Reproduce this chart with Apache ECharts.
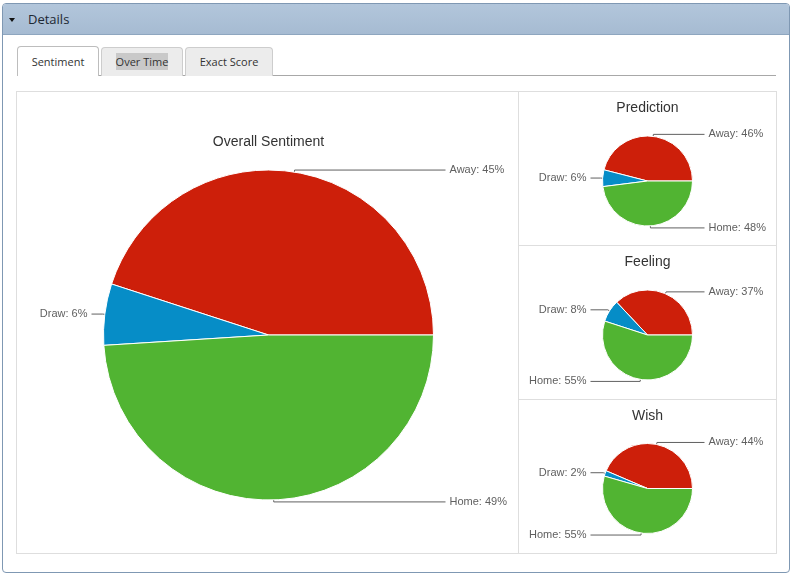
<!DOCTYPE html>
<html>
<head>
<meta charset="utf-8">
<script src="https://cdn.jsdelivr.net/npm/echarts@6/dist/echarts.min.js"></script>
<style>
html,body{margin:0;padding:0;background:#fff;width:793px;height:575px;overflow:hidden;font-family:"Open Sans",sans-serif;}
.abs{position:absolute;box-sizing:border-box;}
#panel{left:2px;top:3px;width:788px;height:570px;border:1px solid #7f98b3;border-radius:4px;}
#header{left:3px;top:4px;width:786px;height:31px;background:linear-gradient(#b2c6db,#a6bbd2);border-bottom:1px solid #8ea6bf;border-radius:3px 3px 0 0;}
#tri{left:9px;top:18px;width:0;height:0;border-left:3.5px solid transparent;border-right:3.5px solid transparent;border-top:4px solid #111;}
#htext{left:28px;top:10px;font-size:13px;line-height:18px;color:#1d2833;}
.tab{top:47px;height:29px;border:1px solid #cdcdcd;border-bottom:none;border-radius:4px 4px 0 0;background:#ececec;font-size:11px;color:#333;text-align:center;line-height:27px;}
#t1{left:17px;top:46px;height:30px;width:82px;background:#fff;border-color:#bdbdbd;z-index:2;line-height:29px;}
#t2{left:101px;width:82px;}
#t3{left:185px;width:88px;}
#t2 span{background:#c9c9c9;padding:1px 0;}
#uline{left:17px;top:75px;width:759px;height:1px;background:#a8a8a8;}
#box{left:16px;top:91px;width:761px;height:463px;border:1px solid #dedede;}
#vdiv{left:518px;top:91px;width:1px;height:463px;background:#dedede;}
#h1{left:518px;top:245px;width:259px;height:1px;background:#dedede;}
#h2{left:518px;top:399px;width:259px;height:1px;background:#dedede;}
#chart{left:16px;top:91px;width:761px;height:463px;z-index:3;}
</style>
</head>
<body>
<div class="abs" id="panel"></div>
<div class="abs" id="header"></div>
<div class="abs" id="tri"></div>
<div class="abs" id="htext">Details</div>
<div class="abs" id="uline"></div>
<div class="abs tab" id="t1">Sentiment</div>
<div class="abs tab" id="t2"><span>Over Time</span></div>
<div class="abs tab" id="t3">Exact Score</div>
<div class="abs" id="box"></div>
<div class="abs" id="vdiv"></div>
<div class="abs" id="h1"></div>
<div class="abs" id="h2"></div>
<div class="abs" id="chart"></div>
<script>
// ---- data ----
const categories = ["Away", "Draw", "Home"];
const overallValues = [45, 6, 49];
const predictionValues = [46, 6, 48];
const feelingValues = [37, 8, 55];
const wishValues = [44, 2, 55];
const chartTitles = ["Overall Sentiment", "Prediction", "Feeling", "Wish"];

// ---- styling ----
const COLORS = ["#cd1f0a", "#068dc7", "#51b432"];
const LINE_LEN = 2;
const LINE_GAP = 12;
const FONT = '"Liberation Sans", Arial, sans-serif';

function buildData(values, r) {
  const sum = values.reduce((a, b) => a + b, 0);
  let acc = 0;
  return categories.map((n, i) => {
    const ang = (acc + values[i] / 2) / sum * 2 * Math.PI;
    acc += values[i];
    const c = Math.abs(Math.cos(ang));
    const len2 = Math.max(2, (r + LINE_GAP) - (r + LINE_LEN) * c);
    return {
      name: n,
      value: values[i],
      itemStyle: { color: COLORS[i] },
      labelLine: { length: LINE_LEN, length2: len2 }
    };
  });
}

function pieSeries(values, center, r) {
  return {
    type: 'pie',
    center: center,
    radius: r,
    startAngle: 0,
    clockwise: false,
    avoidLabelOverlap: true,
    animation: false,
    silent: true,
    itemStyle: { borderColor: '#ffffff', borderWidth: 1 },
    label: {
      show: true,
      position: 'outside',
      alignTo: 'none',
      bleedMargin: 2,
      distanceToLabelLine: 4,
      color: '#606060',
      fontSize: 11,
      fontFamily: FONT,
      padding: [1, 0, 0, 0],
      formatter: p => p.name + ': ' + p.value + '%'
    },
    labelLine: {
      show: true,
      smooth: false,
      minTurnAngle: 0,
      lineStyle: { color: '#606060', width: 1 }
    },
    emphasis: { disabled: true },
    data: buildData(values, r)
  };
}

const bigCenter = [252.5, 244];
const smallCenters = [[631.5, 90], [631.5, 244], [631.5, 397.5]];
const titleY = [51, 17, 171, 325];

const chart = echarts.init(document.getElementById('chart'), null, { renderer: 'canvas' });
const titleEls = chartTitles.map((t, i) => ({
  type: 'text',
  x: i === 0 ? bigCenter[0] : smallCenters[i - 1][0],
  y: titleY[i],
  silent: true,
  style: {
    text: t,
    align: 'center',
    verticalAlign: 'middle',
    textAlign: 'center',
    textVerticalAlign: 'middle',
    fill: '#333333',
    fontSize: 14,
    fontFamily: FONT
  }
}));

chart.setOption({
  animation: false,
  backgroundColor: 'transparent',
  graphic: { elements: titleEls },
  series: [
    pieSeries(overallValues, bigCenter, 165),
    pieSeries(predictionValues, smallCenters[0], 45),
    pieSeries(feelingValues, smallCenters[1], 45),
    pieSeries(wishValues, smallCenters[2], 45)
  ]
});
</script>
</body>
</html>
